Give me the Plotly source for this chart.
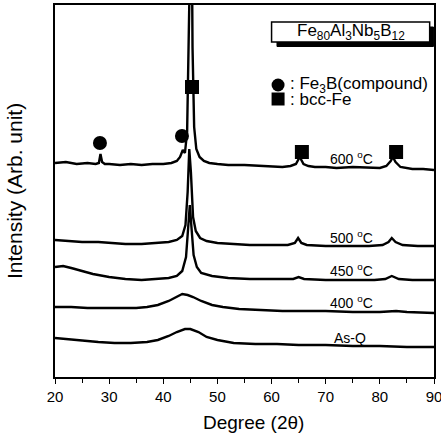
import plotly.graph_objects as go

tt_600 = [20, 22, 24, 26, 27.5, 28.1, 28.4, 28.7, 29.2, 30, 32, 34, 36, 38, 40, 41.5, 42.5, 43.1,
          43.6, 44.0, 44.4, 44.7, 45.0, 45.2, 45.4, 45.7, 46.1, 46.7, 47.5, 48.5, 50, 52, 55, 58,
          60, 62, 63.5, 64.5, 65.2, 65.9, 66.8, 68, 70, 72, 75, 78, 80, 81.2, 82.0, 82.4, 82.9,
          83.8, 85, 86, 88, 90]
i_600 = [214, 215, 213, 214, 213, 214, 223, 215, 213, 213, 212, 213, 212, 213, 213, 214, 216, 220,
         227, 224, 245, 320, 480, 500, 330, 250, 228, 220, 216, 214, 213, 212, 212, 211,
         211, 210, 211, 213, 220, 213, 211, 210, 210, 209, 210, 209, 209, 211, 216, 220, 215,
         210, 209, 208, 208, 207]

tt_500 = [20, 22, 25, 28, 30, 33, 36, 39, 41, 42.5, 43.5, 44.1, 44.5, 44.8, 45.1, 45.5, 46.0, 46.8,
          48, 50, 53, 56, 60, 63, 64.3, 64.9, 65.5, 66.5, 70, 74, 78, 80.5, 81.6, 82.2, 82.9,
          84.2, 87, 90]
i_500 = [137, 136, 135, 135, 134, 133, 133, 134, 135, 137, 141, 152, 185, 228, 205, 160, 146, 139,
         136, 134, 133, 132, 132, 132, 134, 139, 134, 132, 131, 131, 131, 132, 135, 139, 135,
         132, 131, 131]

tt_450 = [20, 21.5, 23, 25, 27, 30, 33, 36, 39, 41, 42.5, 43.5, 44.2, 44.6, 44.9, 45.2, 45.6, 46.2,
          47, 49, 52, 56, 60, 64, 65, 66, 70, 75, 79, 81, 82.2, 83.5, 86, 90]
i_450 = [110, 111, 109, 106, 103, 100, 98, 97, 98, 99, 101, 106, 120, 150, 172, 150, 122, 110,
         104, 101, 99, 98, 98, 98, 100, 98, 97, 97, 97, 98, 101, 98, 97, 97]

tt_400 = [20, 23, 26, 29, 32, 35, 37, 39, 41, 42.5, 43.5, 44.5, 45.5, 47, 49, 51, 54, 58, 62, 66,
          70, 75, 80, 83, 85, 90]
i_400 = [70, 70, 69, 69, 69, 69, 70, 72, 76, 80, 83, 82, 80, 76, 72, 70, 68, 67, 66, 66,
         66, 65, 65, 66, 65, 64]

tt_asq = [20, 22, 25, 28, 31, 34, 37, 39, 41, 42.5, 44, 45, 46.5, 48, 50, 53, 57, 61, 65, 70, 75,
          80, 85, 90]
i_asq = [39, 38, 36, 35, 34, 34, 35, 37, 41, 45, 48, 48, 45, 40, 37, 34, 33, 33, 32, 32, 31,
         31, 30, 30]

# phase markers
fe3b_tt = [28.3, 43.45]
fe3b_i = [234, 241]
bcc_tt = [45.3, 65.6, 83.0]
bcc_i = [290, 225, 225]

# curve labels
label_text = ["600 <sup>o</sup>C", "500 <sup>o</sup>C", "450 <sup>o</sup>C", "400 <sup>o</sup>C", "As-Q"]
label_tt = [74.85, 74.85, 74.85, 74.85, 74.5]
label_i = [219, 140, 107, 75, 39]

x_ticks = [20, 30, 40, 50, 60, 70, 80, 90]

FONT = "Liberation Sans, Arial, sans-serif"

fig = go.Figure()
for xs, ys in [(tt_asq, i_asq), (tt_400, i_400), (tt_450, i_450), (tt_500, i_500), (tt_600, i_600)]:
    fig.add_trace(go.Scatter(x=xs, y=ys, mode="lines",
                             line=dict(color="black", width=2.4), showlegend=False,
                             hoverinfo="skip"))

fig.add_trace(go.Scatter(x=fe3b_tt, y=fe3b_i, mode="markers",
                         marker=dict(symbol="circle", size=14, color="black"),
                         showlegend=False, cliponaxis=False))
fig.add_trace(go.Scatter(x=bcc_tt, y=bcc_i, mode="markers",
                         marker=dict(symbol="square", size=14, color="black"),
                         showlegend=False, cliponaxis=False))

# legend-like key (in data coordinates)
fig.add_trace(go.Scatter(x=[61.2], y=[292], mode="markers",
                         marker=dict(symbol="circle", size=13, color="black"), showlegend=False))
fig.add_trace(go.Scatter(x=[61.2], y=[278], mode="markers",
                         marker=dict(symbol="square", size=13, color="black"), showlegend=False))
fig.add_annotation(x=63.0, y=292, text=": Fe<sub>3</sub>B(compound)", showarrow=False,
                   xanchor="left", yanchor="middle", font=dict(family=FONT, size=17, color="black"))
fig.add_annotation(x=63.0, y=278, text=": bcc-Fe", showarrow=False,
                   xanchor="left", yanchor="middle", font=dict(family=FONT, size=17, color="black"))

# composition box with shadow
fig.add_shape(type="rect", x0=61.0, x1=89.9, y0=330.5, y1=350, fillcolor="black",
              line=dict(color="black", width=1), layer="above")
fig.add_shape(type="rect", x0=60.0, x1=89.2, y0=335, y1=355, fillcolor="white",
              line=dict(color="black", width=1.5), layer="above")
fig.add_annotation(x=74.6, y=345, text="Fe<sub>80</sub>Al<sub>3</sub>Nb<sub>5</sub>B<sub>12</sub>",
                   showarrow=False, xanchor="center", yanchor="middle",
                   font=dict(family=FONT, size=17, color="black"))

for t, xx, yy in zip(label_text, label_tt, label_i):
    fig.add_annotation(x=xx, y=yy, text=t, showarrow=False, xanchor="center", yanchor="middle",
                       font=dict(family=FONT, size=14, color="black"))

# axis titles as annotations
fig.add_annotation(xref="paper", yref="paper", x=0.524, y=-0.121, text="Degree (2θ)",
                   showarrow=False, xanchor="center", yanchor="middle",
                   font=dict(family=FONT, size=19, color="black"))
fig.add_annotation(xref="paper", yref="paper", x=-0.108, y=0.50, text="Intensity (Arb. unit)",
                   showarrow=False, textangle=-90, xanchor="center", yanchor="middle",
                   font=dict(family=FONT, size=21, color="black"))

fig.update_xaxes(range=[20, 90], tickvals=x_ticks, ticks="outside", ticklen=5, tickwidth=1.3,
                 tickcolor="black", showline=True, linecolor="black", linewidth=1.5, mirror=True,
                 showgrid=False, zeroline=False, ticklabeloverflow="allow", automargin=False,
                 minor=dict(dtick=5, ticks="outside", ticklen=4, tickwidth=1.2, tickcolor="black"),
                 tickfont=dict(family=FONT, size=15, color="black"))
fig.update_yaxes(range=[0, 372], showticklabels=False, ticks="", showline=True, automargin=False,
                 linecolor="black", linewidth=1.5, mirror=True, showgrid=False, zeroline=False)

fig.update_layout(width=441, height=435, margin=dict(l=55, r=7, t=5, b=58),
                  plot_bgcolor="white", paper_bgcolor="white", showlegend=False)

fig.write_html("out.html")
